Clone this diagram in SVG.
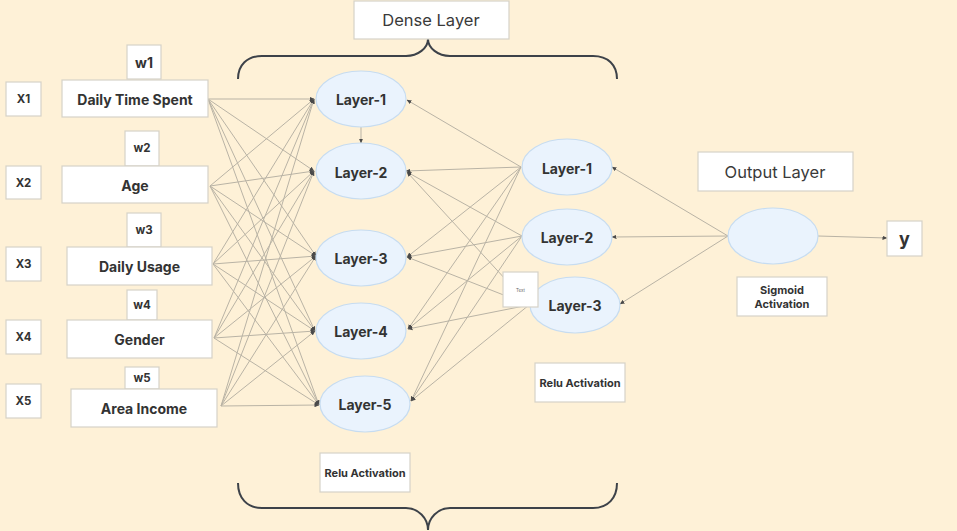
<svg xmlns="http://www.w3.org/2000/svg" width="957" height="531" viewBox="0 0 957 531">
<defs>
<marker id="ah" markerUnits="userSpaceOnUse" markerWidth="5" markerHeight="5" refX="4.5" refY="2.5" orient="auto">
<path d="M0,0.4 L5,2.5 L0,4.6 z" fill="#4a4a4a"/>
</marker>
<style>
.box{fill:#ffffff;stroke:#d6d2c8;stroke-width:1.2}
.ell{fill:#eaf3fd;stroke:#c6dcf1;stroke-width:1.2}
.ln{stroke:#b9b3a5;stroke-width:1;fill:none;marker-end:url(#ah)}
.brace{stroke:#3d4249;stroke-width:2;fill:none}
text{font-family:Inter,"Liberation Sans",sans-serif;fill:#333333;text-anchor:middle;dominant-baseline:central}
.b{font-weight:700}
.lbl{font-size:14px;font-weight:700}
.x{font-size:11.5px;font-weight:700}
.w{font-size:11.5px;font-weight:700}
.act{font-size:11px;font-weight:700}
.ttl{font-size:16.5px;fill:#3a3a3a}
</style>
</defs>
<rect x="0" y="0" width="957" height="531" fill="#fef1d7"/>

<g id="connectors">
<line class="ln" x1="208" y1="99" x2="314" y2="99"/>
<line class="ln" x1="208" y1="99" x2="314" y2="171"/>
<line class="ln" x1="208" y1="99" x2="316" y2="256"/>
<line class="ln" x1="208" y1="99" x2="315" y2="331"/>
<line class="ln" x1="208" y1="99" x2="319" y2="405"/>
<line class="ln" x1="210" y1="186" x2="314" y2="99"/>
<line class="ln" x1="210" y1="186" x2="314" y2="171"/>
<line class="ln" x1="210" y1="186" x2="316" y2="256"/>
<line class="ln" x1="210" y1="186" x2="315" y2="331"/>
<line class="ln" x1="210" y1="186" x2="319" y2="405"/>
<line class="ln" x1="213" y1="264" x2="314" y2="99"/>
<line class="ln" x1="213" y1="264" x2="314" y2="171"/>
<line class="ln" x1="213" y1="264" x2="316" y2="256"/>
<line class="ln" x1="213" y1="264" x2="315" y2="331"/>
<line class="ln" x1="213" y1="264" x2="319" y2="405"/>
<line class="ln" x1="214" y1="338" x2="314" y2="99"/>
<line class="ln" x1="214" y1="338" x2="314" y2="171"/>
<line class="ln" x1="214" y1="338" x2="316" y2="256"/>
<line class="ln" x1="214" y1="338" x2="315" y2="331"/>
<line class="ln" x1="214" y1="338" x2="319" y2="405"/>
<line class="ln" x1="221" y1="406" x2="314" y2="99"/>
<line class="ln" x1="221" y1="406" x2="314" y2="171"/>
<line class="ln" x1="221" y1="406" x2="316" y2="256"/>
<line class="ln" x1="221" y1="406" x2="315" y2="331"/>
<line class="ln" x1="221" y1="406" x2="319" y2="405"/>

<line class="ln" x1="361" y1="127" x2="361" y2="143"/>

<line class="ln" x1="521" y1="167" x2="407" y2="100"/>
<line class="ln" x1="521" y1="167" x2="406" y2="171"/>
<line class="ln" x1="521" y1="167" x2="407" y2="257"/>
<line class="ln" x1="521" y1="167" x2="408" y2="329"/>
<line class="ln" x1="521" y1="167" x2="411" y2="401"/>
<line class="ln" x1="522" y1="236" x2="407" y2="172"/>
<line class="ln" x1="522" y1="236" x2="407" y2="257"/>
<line class="ln" x1="522" y1="236" x2="408" y2="329"/>
<line class="ln" x1="522" y1="236" x2="411" y2="401"/>
<line class="ln" x1="529" y1="305" x2="407" y2="172"/>
<line class="ln" x1="529" y1="305" x2="407" y2="257"/>
<line class="ln" x1="529" y1="305" x2="408" y2="329"/>
<line class="ln" x1="529" y1="305" x2="411" y2="401"/>

<line class="ln" x1="728" y1="236" x2="612" y2="167"/>
<line class="ln" x1="728" y1="236" x2="612" y2="237"/>
<line class="ln" x1="728" y1="236" x2="620" y2="304"/>
<line class="ln" x1="818" y1="236" x2="887" y2="238"/>
</g>

<g id="braces">
<path class="brace" d="M238,79 C238,65 247,56 262,56 L406,56 C418,56 428,48 428,39 C428,48 438,56 450,56 L593,56 C608,56 617,65 617,79"/>
<path class="brace" d="M238,483 C238,498 247,508 262,508 L406,508 C418,508 428,518 428,530 C428,518 438,508 450,508 L593,508 C608,508 617,498 617,483"/>
</g>

<g id="dense-layer-label"><rect class="box" x="354" y="1" width="155" height="38"/><text class="ttl" x="431" y="20">Dense Layer</text></g>
<g id="output-layer-label"><rect class="box" x="698" y="152" width="155" height="39"/><text class="ttl" x="775" y="172">Output Layer</text></g>

<g id="x1"><rect class="box" x="6" y="82" width="35" height="34"/><text class="x" x="23.5" y="99">X1</text></g>
<g id="x2"><rect class="box" x="6" y="166" width="35" height="33"/><text class="x" x="23.5" y="183">X2</text></g>
<g id="x3"><rect class="box" x="6" y="247" width="35" height="34"/><text class="x" x="23.5" y="264">X3</text></g>
<g id="x4"><rect class="box" x="6" y="320" width="35" height="34"/><text class="x" x="23.5" y="337">X4</text></g>
<g id="x5"><rect class="box" x="6" y="384" width="35" height="34"/><text class="x" x="23.5" y="401">X5</text></g>

<g id="w1"><rect class="box" x="127" y="45" width="34" height="34"/><text class="b" style="font-size:14px" x="144" y="62">w1</text></g>
<g id="w2"><rect class="box" x="125" y="131" width="34" height="35"/><text class="w" x="142" y="148">w2</text></g>
<g id="w3"><rect class="box" x="127" y="213" width="34" height="34"/><text class="w" x="144" y="230">w3</text></g>
<g id="w4"><rect class="box" x="127" y="290" width="30" height="30"/><text class="w" x="142" y="305">w4</text></g>
<g id="w5"><rect class="box" x="125" y="367" width="34" height="22"/><text class="w" x="142" y="378">w5</text></g>

<g id="daily-time-spent"><rect class="box" x="62" y="80" width="146" height="37"/><text class="lbl" x="135" y="99">Daily Time Spent</text></g>
<g id="age"><rect class="box" x="62" y="166" width="146" height="37"/><text class="lbl" x="135" y="185">Age</text></g>
<g id="daily-usage"><rect class="box" x="67" y="247" width="145" height="38"/><text class="lbl" x="139.5" y="266">Daily Usage</text></g>
<g id="gender"><rect class="box" x="67" y="320" width="145" height="38"/><text class="lbl" x="139.5" y="339">Gender</text></g>
<g id="area-income"><rect class="box" x="71" y="389" width="146" height="38"/><text class="lbl" x="144" y="408">Area Income</text></g>

<g id="h1-layer-1"><ellipse class="ell" cx="361" cy="99" rx="45" ry="28"/><text class="lbl" x="361" y="99">Layer-1</text></g>
<g id="h1-layer-2"><ellipse class="ell" cx="361" cy="171" rx="45" ry="28"/><text class="lbl" x="361" y="172">Layer-2</text></g>
<g id="h1-layer-3"><ellipse class="ell" cx="361" cy="258" rx="45" ry="28"/><text class="lbl" x="361" y="258">Layer-3</text></g>
<g id="h1-layer-4"><ellipse class="ell" cx="361" cy="331" rx="45" ry="28"/><text class="lbl" x="361" y="331">Layer-4</text></g>
<g id="h1-layer-5"><ellipse class="ell" cx="365" cy="404" rx="45" ry="28"/><text class="lbl" x="365" y="404">Layer-5</text></g>

<g id="h2-layer-1"><ellipse class="ell" cx="567" cy="167" rx="45" ry="28"/><text class="lbl" x="567" y="168">Layer-1</text></g>
<g id="h2-layer-2"><ellipse class="ell" cx="567" cy="237" rx="45" ry="28"/><text class="lbl" x="567" y="237">Layer-2</text></g>
<g id="h2-layer-3"><ellipse class="ell" cx="575" cy="305" rx="45" ry="28"/><text class="lbl" x="575" y="305">Layer-3</text></g>

<g id="text-box"><rect class="box" x="503" y="272" width="35" height="35"/><text style="font-size:4.5px;fill:#666666" x="520.5" y="290">Text</text></g>

<g id="relu-activation-2"><rect class="box" x="535" y="363" width="90" height="39"/><text class="act" x="580" y="382.5">Relu Activation</text></g>
<g id="relu-activation-1"><rect class="box" x="320" y="453" width="90" height="39"/><text class="act" x="365" y="472.5">Relu Activation</text></g>

<g id="output"><ellipse class="ell" cx="773" cy="236" rx="45" ry="28"/></g>
<g id="sigmoid-activation"><rect class="box" x="737" y="277" width="90" height="39"/><text class="act" x="782" y="290">Sigmoid</text><text class="act" x="782" y="304">Activation</text></g>
<g id="y"><rect class="box" x="887" y="221" width="35" height="35"/><text class="b" style="font-size:18px" x="904.5" y="238">y</text></g>
</svg>
